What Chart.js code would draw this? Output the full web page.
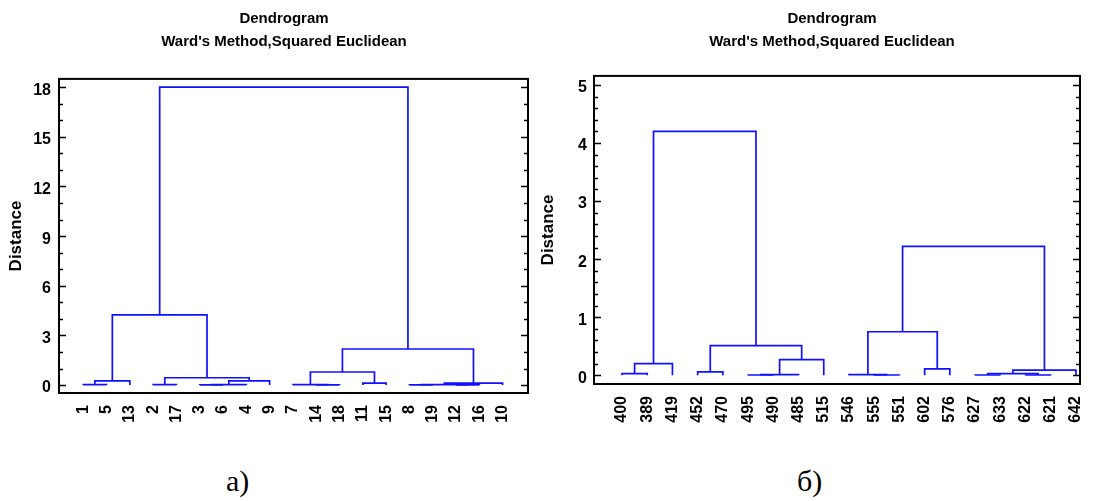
<!DOCTYPE html>
<html>
<head>
<meta charset="utf-8">
<script src="https://cdn.jsdelivr.net/npm/chart.js@4.4.1/dist/chart.umd.min.js"></script>
<style>
  body { margin: 0; background: #fff; width: 1094px; height: 501px; position: relative; overflow: hidden; }
  canvas { position: absolute; top: 0; }
  #chartA { left: 0; }
  #chartB { left: 530px; }
  .cap { position: absolute; top: 466px; font-family: "Liberation Serif", "Times New Roman", serif; font-size: 30px; line-height: 30px; color: #000; }
</style>
</head>
<body>
<canvas id="chartA" width="540" height="450"></canvas>
<canvas id="chartB" width="560" height="450"></canvas>
<div class="cap" style="left:226px">а)</div>
<div class="cap" style="left:797px">б)</div>
<script>
// a) leaves in dendrogram order, merges as [left node, right node, distance]
// (node ids: leaves are 0..n-1, each merge creates the next id)
const leavesA = ["1", "5", "13", "2", "17", "3", "6", "4", "9", "7", "14", "18", "11", "15", "8", "19", "12", "16", "10"];
const mergesA = [
  [0, 1, 0.03], [19, 2, 0.25], [3, 4, 0.03], [5, 6, 0.01], [22, 7, 0.03],
  [23, 8, 0.25], [21, 24, 0.44], [20, 25, 4.24], [10, 11, 0.01], [9, 27, 0.03],
  [12, 13, 0.12], [28, 29, 0.79], [14, 15, 0.01], [16, 17, 0.01], [31, 32, 0.03],
  [33, 18, 0.12], [30, 34, 2.18], [26, 35, 18.0],
];
const yTicksA = [0, 3, 6, 9, 12, 15, 18];

// б)
const leavesB = ["400", "389", "419", "452", "470", "495", "490", "485", "515", "546", "555", "551", "602", "576", "627", "633", "622", "621", "642"];
const mergesB = [
  [0, 1, 0.03], [19, 2, 0.2], [3, 4, 0.06], [5, 6, 0.005], [22, 7, 0.01],
  [23, 8, 0.27], [21, 24, 0.51], [20, 25, 4.2], [10, 11, 0.005], [9, 27, 0.01],
  [12, 13, 0.11], [28, 29, 0.75], [14, 15, 0.005], [16, 17, 0.005], [31, 32, 0.03],
  [33, 18, 0.09], [30, 34, 2.22],
];
const yTicksB = [0, 1, 2, 3, 4, 5];

const FONT = '"Liberation Sans", Arial, sans-serif';
const BLUE = "#1010ff";

// turn merges into U-shaped links (leaf index on x, distance on y)
function links(leaves, merges) {
  const nodes = leaves.map((_, i) => ({ x: i, h: 0 }));
  const out = [];
  merges.forEach(([a, b, h]) => {
    const l = nodes[a], r = nodes[b];
    out.push([{ x: l.x, y: l.h }, { x: l.x, y: h }, { x: r.x, y: h }, { x: r.x, y: r.h }]);
    nodes.push({ x: (l.x + r.x) / 2, h });
  });
  return out;
}

// box round the plot + inward ticks on left and right sides
const framePlugin = {
  id: "frame",
  afterDraw(chart, args, opts) {
    const { ctx, chartArea: { left, right, top, bottom }, scales: { y } } = chart;
    ctx.save();
    ctx.strokeStyle = "#000";
    ctx.lineWidth = 2;
    ctx.strokeRect(left, top, right - left, bottom - top);
    ctx.lineWidth = 1.5;
    for (let k = 0; k * opts.minor <= y.max + 1e-9; k++) {
      const v = k * opts.minor;
      const major = opts.major.some((m) => Math.abs(m - v) < 1e-6);
      const len = major ? 7 : 4;
      const py = Math.round(y.getPixelForValue(v)) + 0.5;
      ctx.beginPath();
      ctx.moveTo(left, py); ctx.lineTo(left + len, py);
      ctx.moveTo(right, py); ctx.lineTo(right - len, py);
      ctx.stroke();
    }
    ctx.restore();
  },
};

function makeChart(id, leaves, merges, yTicks, o) {
  const datasets = links(leaves, merges).map((seg) => ({
    data: seg,
    showLine: true,
    borderColor: BLUE,
    borderWidth: 1.7,
    pointRadius: 0,
    fill: false,
  }));
  return new Chart(document.getElementById(id), {
    type: "scatter",
    data: { datasets },
    plugins: [framePlugin],
    options: {
      responsive: false,
      animation: false,
      layout: { padding: { left: o.padL, right: 0, top: 0, bottom: 0 } },
      plugins: {
        legend: { display: false },
        tooltip: { enabled: false },
        title: {
          display: true,
          text: ["Dendrogram", "Ward's Method,Squared Euclidean"],
          color: "#000",
          font: { family: FONT, size: 15, weight: "bold", lineHeight: 1.53 },
          padding: { top: 7.5, bottom: o.titleBottom },
        },
        frame: { minor: o.minor, major: yTicks },
      },
      scales: {
        x: {
          type: "linear",
          min: o.xMin,
          max: o.xMax,
          grid: { display: false, drawTicks: false },
          border: { display: false },
          afterBuildTicks: (s) => { s.ticks = leaves.map((_, i) => ({ value: i })); },
          afterFit: (s) => {
            s.height = 450 - o.bottom;
            s.paddingLeft = 0;
            s.paddingRight = 0;
          },
          ticks: {
            autoSkip: false,
            minRotation: 90,
            maxRotation: 90,
            padding: 12,
            color: "#000",
            font: { family: FONT, size: 16, weight: "bold" },
            callback: (v) => leaves[v],
          },
        },
        y: {
          min: o.yMin,
          max: o.yMax,
          grid: { display: false, drawTicks: false },
          border: { display: false },
          afterBuildTicks: (s) => { s.ticks = yTicks.map((v) => ({ value: v })); },
          afterFit: (s) => { s.width = o.axisW; },
          ticks: {
            padding: o.tickPad,
            labelOffset: 3,
            color: "#000",
            font: { family: FONT, size: 16, weight: "bold" },
          },
          title: {
            display: true,
            text: "Distance",
            color: "#000",
            font: { family: FONT, size: 17, weight: "bold" },
            padding: { top: o.titlePad, bottom: 0 },
          },
        },
        // empty right-hand margin so the title centres like the original
        yRight: {
          position: "right",
          grid: { display: false, drawTicks: false },
          border: { display: false },
          ticks: { display: false },
          afterFit: (s) => { s.width = o.rightW; },
        },
      },
    },
  });
}

makeChart("chartA", leavesA, mergesA, yTicksA, {
  padL: 28, axisW: 31, rightW: 12, tickPad: 8, titlePad: -22.2, titleBottom: 25.5,
  xMin: -1.04, xMax: 19.09, yMin: -0.48, yMax: 18.5, bottom: 393, minor: 1,
});
makeChart("chartB", leavesB, mergesB, yTicksB, {
  padL: 44, axisW: 20, rightW: 10, tickPad: 7, titlePad: -36.2, titleBottom: 22.5,
  xMin: -1.11, xMax: 18.16, yMin: -0.15, yMax: 5.155, bottom: 384, minor: 0.2,
});
</script>
</body>
</html>
